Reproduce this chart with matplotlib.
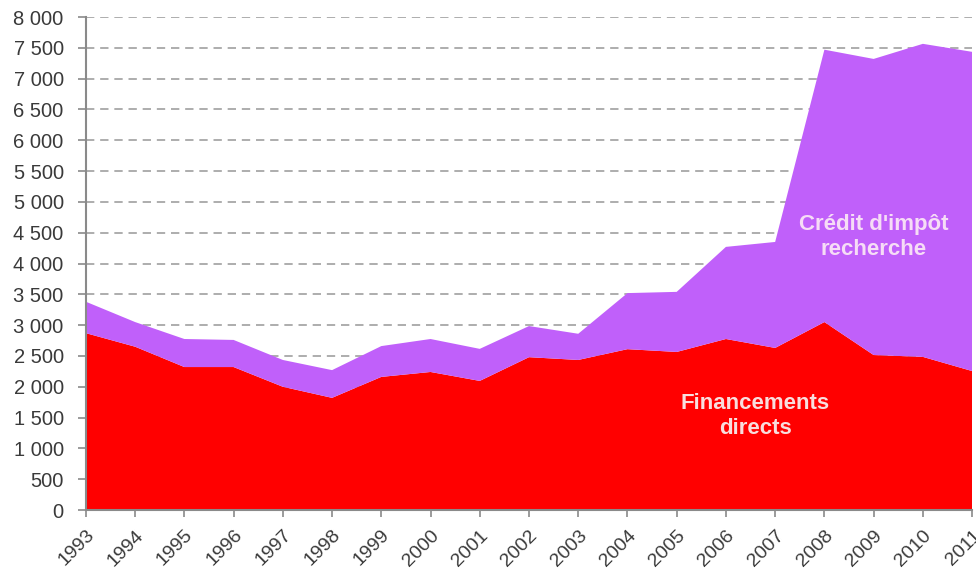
import matplotlib.pyplot as plt
from matplotlib.ticker import FuncFormatter

# Données (millions d'euros)
annees = list(range(1993, 2012))
financements_directs = [2870, 2650, 2320, 2320, 2000, 1820, 2160, 2240, 2095, 2480,
                        2435, 2610, 2565, 2775, 2630, 3050, 2515, 2485, 2255]
total = [3380, 3050, 2775, 2760, 2435, 2270, 2660, 2775, 2615, 2985,
         2860, 3520, 3540, 4270, 4350, 7470, 7320, 7565, 7435]
credit_impot = [t - f for t, f in zip(total, financements_directs)]

plt.rcParams['font.family'] = ['Liberation Sans', 'DejaVu Sans']

fig = plt.figure(figsize=(9.76, 5.77), dpi=100)
ax = fig.add_axes([0.088, 0.1161, 0.908, 0.8544])

ax.stackplot(annees, financements_directs, credit_impot,
             colors=['#ff0000', '#c060fa'], zorder=2)

ax.set_xlim(1993, 2011)
ax.set_ylim(0, 8000)
ax.set_yticks(range(0, 8001, 500))
ax.set_xticks(annees)
ax.yaxis.set_major_formatter(FuncFormatter(lambda v, p: f"{int(v):,}".replace(",", " ")))
ax.set_xticklabels([str(a) for a in annees], rotation=45, ha='right',
                   rotation_mode='anchor')

ax.grid(axis='y', linestyle=(0, (5, 3.5)), color='#a0a0a0', linewidth=1.2, zorder=1)
ax.set_axisbelow(True)
for s in ['top', 'right']:
    ax.spines[s].set_visible(False)
for s in ['left', 'bottom']:
    ax.spines[s].set_color('#8a8a8a')
    ax.spines[s].set_linewidth(1.5)
    ax.spines[s].set_zorder(3)
ax.tick_params(colors='#8a8a8a', labelcolor='#3a3a3a', width=1.2)
ax.tick_params(axis='y', labelsize=14.5, length=6, pad=10)
ax.tick_params(axis='x', labelsize=14, length=5, pad=7)

ax.text(2009.0, 4430, "Crédit d'impôt\nrecherche", color='#f6dcf6', fontsize=16,
        fontweight='bold', ha='center', va='center', linespacing=1.2, zorder=4)
ax.text(2006.6, 1525, "Financements\ndirects", color='#f8dede', fontsize=16,
        fontweight='bold', ha='center', va='center', linespacing=1.2, zorder=4)

fig.savefig('out.png', dpi=100)
